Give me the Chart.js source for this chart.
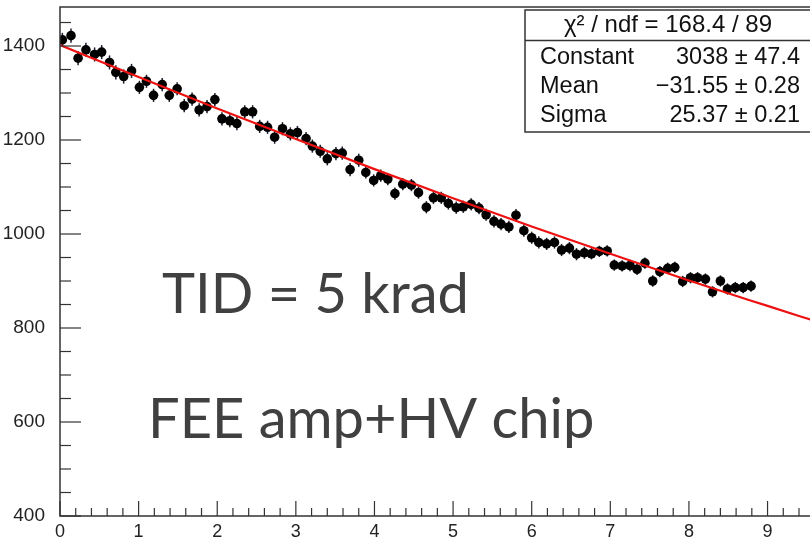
<!DOCTYPE html>
<html>
<head>
<meta charset="utf-8">
<script src="https://cdn.jsdelivr.net/npm/chart.js@4.4.1/dist/chart.umd.min.js"></script>
<style>
  html, body { margin: 0; padding: 0; background: #fff; }
  #wrap { width: 810px; height: 543px; position: relative; }
</style>
</head>
<body>
<div id="wrap"><canvas id="tidChart"></canvas></div>
<script>
// measured points (x position, counts, error)
const xValues = [
  0.03, 0.14, 0.23, 0.33, 0.44, 0.53, 0.63, 0.71, 0.81, 0.91,
  1.01, 1.10, 1.19, 1.30, 1.39, 1.49, 1.58, 1.68, 1.77, 1.87,
  1.97, 2.06, 2.16, 2.25, 2.35, 2.45, 2.54, 2.64, 2.73, 2.83,
  2.93, 3.02, 3.13, 3.21, 3.31, 3.40, 3.51, 3.59, 3.69, 3.80,
  3.89, 3.99, 4.08, 4.17, 4.26, 4.36, 4.47, 4.56, 4.66, 4.75,
  4.85, 4.94, 5.04, 5.13, 5.23, 5.33, 5.42, 5.52, 5.61, 5.71,
  5.80, 5.90, 6.00, 6.09, 6.19, 6.29, 6.38, 6.48, 6.57, 6.67,
  6.76, 6.86, 6.96, 7.05, 7.15, 7.25, 7.34, 7.44, 7.54, 7.63,
  7.73, 7.82, 7.92, 8.02, 8.11, 8.21, 8.30, 8.40, 8.49, 8.59,
  8.69, 8.79
];
const counts = [
  1413, 1422, 1374, 1392, 1382, 1387, 1365, 1344, 1335, 1347,
  1312, 1325, 1295, 1318, 1295, 1309, 1273, 1287, 1264, 1271,
  1286, 1245, 1241, 1235, 1260, 1260, 1229, 1227, 1206, 1224,
  1213, 1216, 1203, 1187, 1176, 1160, 1171, 1172, 1137, 1157,
  1131, 1114, 1124, 1117, 1086, 1106, 1104, 1088, 1057, 1077,
  1077, 1065, 1056, 1058, 1063, 1055, 1041, 1027, 1021, 1015,
  1040, 1007, 992, 982, 979, 982, 966, 970, 957, 960,
  958, 963, 964, 934, 932, 933, 925, 938, 900, 920,
  927, 929, 899, 907, 907, 904, 877, 900, 883, 886,
  886, 889
];
const countErrors = [
  15, 15, 15, 15, 15, 15, 15, 15, 15, 15,
  14, 14, 14, 14, 14, 14, 14, 14, 14, 14,
  14, 14, 14, 14, 14, 14, 14, 14, 14, 14,
  14, 14, 14, 14, 14, 14, 14, 14, 14, 14,
  13, 13, 13, 13, 13, 13, 13, 13, 13, 13,
  13, 13, 13, 13, 13, 13, 13, 13, 13, 13,
  13, 13, 13, 13, 13, 13, 13, 13, 13, 13,
  12, 12, 12, 12, 12, 12, 12, 12, 12, 12,
  12, 12, 12, 12, 12, 12, 12, 12, 12, 12,
  12, 12
];

// gaus fit curve
const fitX = [0, 1, 2, 3, 4, 5, 6, 7, 8, 9, 9.6];
const fitY = [1402, 1334, 1267, 1202, 1138, 1076, 1016, 958, 901, 847, 815];

const xTickValues = [0, 1, 2, 3, 4, 5, 6, 7, 8, 9];
const yTickValues = [400, 600, 800, 1000, 1200, 1400];

const statsTitle = 'χ² / ndf = 168.4 / 89';
const statsNames = ['Constant', 'Mean', 'Sigma'];
const statsValues = ['3038 ± 47.4', '−31.55 ± 0.28', '25.37 ± 0.21'];

const labelLines = ['TID = 5 krad', 'FEE amp+HV chip'];

Chart.defaults.font.family = "'Liberation Sans', Arial, sans-serif";
Chart.defaults.color = '#222';

// vertical error bars behind the markers
const errorBars = {
  id: 'errorBars',
  beforeDatasetsDraw(chart) {
    const { ctx, scales: { x, y } } = chart;
    ctx.save();
    ctx.strokeStyle = '#1c1c30';
    ctx.lineWidth = 1.5;
    counts.forEach((v, i) => {
      const px = x.getPixelForValue(xValues[i]);
      ctx.beginPath();
      ctx.moveTo(px, y.getPixelForValue(v - countErrors[i]));
      ctx.lineTo(px, y.getPixelForValue(v + countErrors[i]));
      ctx.stroke();
    });
    ctx.restore();
  }
};

// ROOT style frame: ticks inside, stats box, slide labels
const rootFrame = {
  id: 'rootFrame',
  afterDraw(chart) {
    const { ctx, chartArea: a, scales: { x, y } } = chart;
    ctx.save();

    // frame
    ctx.strokeStyle = '#333';
    ctx.lineWidth = 1.5;
    ctx.beginPath();
    ctx.moveTo(a.right + 2, a.top);
    ctx.lineTo(a.left, a.top);
    ctx.lineTo(a.left, a.bottom);
    ctx.lineTo(a.right + 2, a.bottom);
    ctx.stroke();

    // y ticks every 50, major every 200
    ctx.lineWidth = 1.2;
    for (let v = 400; v <= y.max; v += 50) {
      const py = y.getPixelForValue(v);
      const len = v % 200 === 0 ? 21 : 11;
      ctx.beginPath();
      ctx.moveTo(a.left, py);
      ctx.lineTo(a.left + len, py);
      ctx.stroke();
    }
    // x ticks every 0.2, major every 1
    for (let k = 0; k * 0.2 <= x.max; k++) {
      const px = x.getPixelForValue(k * 0.2);
      const len = k % 5 === 0 ? 15 : 8;
      ctx.beginPath();
      ctx.moveTo(px, a.bottom);
      ctx.lineTo(px, a.bottom - len);
      ctx.stroke();
    }

    // stats box
    const bx = 525, by = 10, bw = 290, bh = 122;
    ctx.fillStyle = '#fff';
    ctx.fillRect(bx, by, bw, bh);
    ctx.lineWidth = 1.5;
    ctx.strokeRect(bx, by, bw, bh);
    ctx.beginPath();
    ctx.moveTo(bx, 40.5);
    ctx.lineTo(bx + bw, 40.5);
    ctx.stroke();

    ctx.fillStyle = '#111';
    ctx.font = "24px 'Liberation Sans', Arial, sans-serif";
    ctx.textBaseline = 'middle';
    ctx.textAlign = 'center';
    ctx.fillText(statsTitle, 668, 25);
    ctx.font = "23.5px 'Liberation Sans', Arial, sans-serif";
    statsNames.forEach((name, i) => {
      const ty = 58 + i * 29;
      ctx.textAlign = 'left';
      ctx.fillText(name, 540, ty);
      ctx.textAlign = 'right';
      ctx.fillText(statsValues[i], 800, ty);
    });

    // slide annotations
    ctx.fillStyle = '#404040';
    ctx.font = "56px Lato, 'Open Sans', sans-serif";
    ctx.textAlign = 'left';
    ctx.textBaseline = 'alphabetic';
    ctx.fillText(labelLines[0], 162, 313);
    ctx.fillText(labelLines[1], 148, 438);

    ctx.restore();
  }
};

new Chart(document.getElementById('tidChart'), {
  data: {
    datasets: [
      {
        type: 'line',
        label: 'fit',
        data: fitX.map((v, i) => ({ x: v, y: fitY[i] })),
        borderColor: '#ee1111',
        borderWidth: 2.2,
        pointRadius: 0,
        cubicInterpolationMode: 'monotone',
        order: 0
      },
      {
        type: 'scatter',
        label: 'data',
        data: xValues.map((v, i) => ({ x: v, y: counts[i] })),
        backgroundColor: '#000',
        borderWidth: 0,
        pointRadius: 4.8,
        order: 1
      }
    ]
  },
  options: {
    responsive: true,
    maintainAspectRatio: false,
    animation: false,
    layout: { autoPadding: false, padding: { top: 7, right: 0, left: 0, bottom: 0 } },
    plugins: {
      legend: { display: false },
      tooltip: { enabled: false }
    },
    scales: {
      x: {
        type: 'linear',
        min: 0,
        max: 9.54,
        grid: { display: false },
        border: { display: false },
        ticks: {
          font: { size: 18 },
          padding: -3,
          maxRotation: 0,
          autoSkip: false,
          callback: v => String(v)
        },
        afterBuildTicks: scale => {
          scale.ticks = xTickValues.map(v => ({ value: v }));
        },
        afterFit: scale => {
          scale.height = 27;
          scale.paddingLeft = 0;
          scale.paddingRight = 0;
        }
      },
      y: {
        type: 'linear',
        min: 400,
        max: 1483,
        grid: { display: false },
        border: { display: false },
        ticks: {
          font: { size: 19 },
          padding: 7,
          callback: v => String(v)
        },
        afterBuildTicks: scale => {
          scale.ticks = yTickValues.map(v => ({ value: v }));
        },
        afterFit: scale => {
          scale.width = 60;
          scale.paddingTop = 0;
          scale.paddingBottom = 0;
        }
      }
    }
  },
  plugins: [errorBars, rootFrame]
});
</script>
</body>
</html>
